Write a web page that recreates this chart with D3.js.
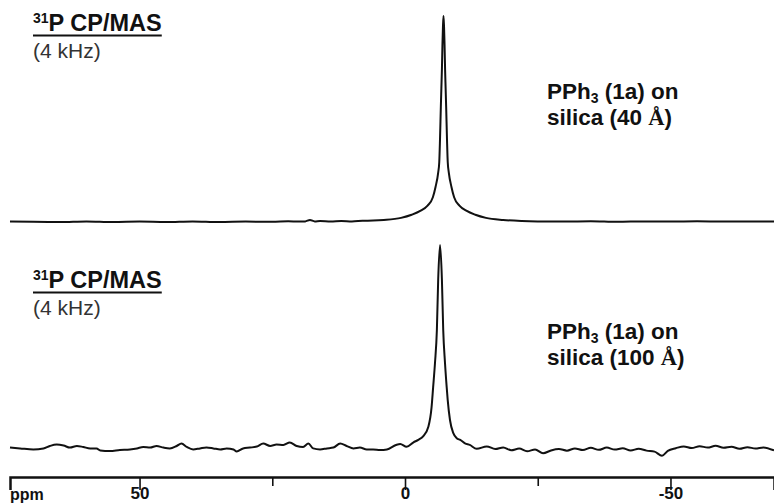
<!DOCTYPE html>
<html>
<head>
<meta charset="utf-8">
<script src="https://cdn.jsdelivr.net/npm/d3@7"></script>
<style>
  body { margin: 0; background: #fff; }
  svg { display: block; }
  text { font-family: "Liberation Sans", Arial, sans-serif; }
</style>
</head>
<body>
<div id="container"></div>
<script>
// spectrum 1 : PPh3 on silica (40 A), chemical shift (ppm) and relative intensity (%)
const topPpm = [74.4, 70, 65, 60, 55, 50, 45, 40, 35, 30,
  25, 22, 20, 18.8, 17.9, 17, 16, 14, 12, 10,
  8, 6, 4, 0.75, -1.25, -2.95, -4.25, -5.25, -5.75, -6.25,
  -6.45, -6.59, -6.75, -6.85, -6.95, -7.05, -7.15, -7.25, -7.35, -7.45,
  -7.55, -7.65, -7.75, -7.91, -8.05, -8.25, -8.75, -9.25, -10.25, -11.55,
  -13.25, -15.25, -18.5, -22, -25, -30, -35, -40, -45, -50,
  -55, -60, -65, -69.5];
const topInt = [0.2, 0.1, 0, 0.3, 0, 0.2, 0, 0.3, 0, 0.2,
  0.1, 0.4, 0.2, 0.3, 1.0, 0.3, 0.5, 0.2, 0.5, 0.3,
  0.6, 0.7, 1.0, 2.0, 3.5, 5.5, 8, 12, 17, 24,
  29, 40, 56, 65, 74, 86, 95, 100, 95, 86,
  74, 65, 56, 40, 29, 24, 17, 12, 8, 5.5,
  3.5, 2.0, 1.0, 0.5, 0.3, 0.2, 0.4, 0.1, 0.3, 0.2,
  0.4, 0.2, 0.3, 0.2];

// spectrum 2 : PPh3 on silica (100 A)
const bottomPpm = [74.4, 72.5, 70.0, 68.1, 66.9, 65.6, 64.3, 63.1, 61.8, 60.6,
  59.3, 58.1, 57.4, 55.6, 53.7, 51.8, 50.5, 49.3, 48.0, 46.8,
  45.5, 44.3, 43.0, 42.1, 41.1, 39.9, 38.6, 37.4, 36.1, 34.8,
  33.6, 32.3, 31.7, 30.5, 29.2, 27.9, 26.7, 25.4, 24.2, 22.9,
  21.7, 20.4, 19.2, 18.2, 17.3, 16.0, 14.7, 13.5, 12.2, 11.0,
  9.7, 8.5, 7.2, 6.0, 4.7, 3.4,
  1.7, 0.9, -0.3, -1.6, -2.5, -3.45, -4.4, -5.0, -5.3, -5.65,
  -6.0, -6.25, -6.6, -6.95, -7.2, -7.53, -7.85, -8.04, -8.47, -9.1,
  -9.74, -10.4, -11.3, -12.2, -13.5, -15.4,
  -17, -18.5, -20, -21.5, -23, -24.5, -26, -27.5, -29, -30.5,
  -32, -33.5, -35, -36.5, -38, -39.5, -41, -42.5, -44, -45.5,
  -47, -48.4, -49.5, -51, -52.5, -54, -55.5, -57, -58.5, -60,
  -61.5, -63, -64.5, -66, -67.5, -69.5];
const bottomInt = [0.2, -0.2, -0.7, -0.2, 1.0, 1.7, 1.2, 0.2, 1.0, 0.5,
  -0.2, -0.2, -1.2, -1.5, -1.0, -0.7, -0.2, 0.5, 0.2, 1.0,
  0.2, -0.2, 1.0, 2.2, 0.5, -0.7, -0.2, 0.2, -0.2, -0.7,
  -0.2, -0.7, -1.7, -0.2, 0.2, 0.7, 2.2, 1.0, 1.7, 1.5,
  2.7, 1.0, 0.5, 2.2, -0.2, -0.7, -0.2, 0.2, 2.2, 1.0,
  -0.2, 0.2, -0.7, -0.7, -1.0, -0.7,
  1.5, 2.0, 0.6, 2.8, 4.0, 5.9, 10.5, 20, 30, 42,
  58, 83, 100, 83, 58, 42, 30, 23.7, 13.8, 7.3,
  4.8, 4.0, 2.3, 1.5, -0.4, 0.8,
  -0.5, 0.3, -1.1, -0.3, -1.6, -0.7, -2.6, -1.2, -0.5, -1.3,
  -0.2, -1.0, 0.1, -0.9, 0.2, -0.8, -0.1, -1.2, -0.4, -1.3,
  -1.8, -3.8, -1.4, -0.1, 0.8, 0.0, 0.9, 0.2, 1.1, 0.1,
  0.6, -0.4, 0.4, -0.3, 0.3, -1.2];

// axis
const tickValues = [50, 25, 0, -25, -50];
const tickLabels = ["50", "", "0", "", "-50"];

// annotations
const methodText = ["31", "P CP/MAS"];
const spinText = "(4 kHz)";
const poreSizes = ["40", "100"];

const width = 774;
const height = 503;

const svg = d3.select("#container").append("svg")
  .attr("width", width).attr("height", height);

const xScale = d3.scaleLinear().domain([74.4, -69.5]).range([10, 774]);
const yTop = d3.scaleLinear().domain([0, 100]).range([222, 16]);
const yBottom = d3.scaleLinear().domain([0, 100]).range([448, 245]);

function drawSpectrum(ppm, inten, yScale) {
  const pts = ppm.map((p, i) => [p, inten[i]]);
  const line = d3.line()
    .x(d => xScale(d[0]))
    .y(d => yScale(d[1]))
    .curve(d3.curveMonotoneX);
  svg.append("path")
    .datum(pts)
    .attr("fill", "none")
    .attr("stroke", "#111")
    .attr("stroke-width", 2)
    .attr("stroke-linejoin", "round")
    .attr("d", line);
}

drawSpectrum(topPpm, topInt, yTop);
drawSpectrum(bottomPpm, bottomInt, yBottom);

// x axis
const xAxis = d3.axisBottom(xScale)
  .tickValues(tickValues)
  .tickFormat((d, i) => tickLabels[i])
  .tickSizeOuter(0)
  .tickSize(13);

const gx = svg.append("g")
  .attr("transform", "translate(0,477)")
  .call(xAxis);

gx.select(".domain").attr("stroke", "#111").attr("stroke-width", 2.5);
gx.selectAll(".tick line")
  .attr("stroke", "#111")
  .attr("stroke-width", 1.6)
  .attr("y2", (d, i) => tickLabels[i] ? 13 : 9);
gx.selectAll(".tick text")
  .attr("y", 22)
  .attr("dy", null)
  .attr("fill", "#111")
  .style("font-size", "17px")
  .style("font-weight", "bold")
  .style("font-family", "'Liberation Sans', Arial, sans-serif");

svg.append("text")
  .attr("x", 10).attr("y", 500)
  .style("font-size", "16px").style("font-weight", "bold")
  .attr("fill", "#111")
  .text("ppm");

// left annotations
function methodLabel(x, y) {
  const t = svg.append("text")
    .attr("x", x).attr("y", y)
    .attr("fill", "#111")
    .style("font-size", "23.5px").style("font-weight", "bold");
  t.append("tspan").text(methodText[0])
    .style("font-size", "14px").attr("dy", -8);
  t.append("tspan").text(methodText[1]).attr("dy", 8);
  const w = t.node().getComputedTextLength();
  svg.append("line")
    .attr("x1", x).attr("x2", x + w)
    .attr("y1", y + 4.5).attr("y2", y + 4.5)
    .attr("stroke", "#111").attr("stroke-width", 2.2);
  svg.append("text")
    .attr("x", x).attr("y", y + 27)
    .attr("fill", "#333")
    .style("font-size", "21px")
    .text(spinText);
}
methodLabel(33, 31);
methodLabel(33, 288);

// right annotations
function sampleLabel(x, y, size) {
  const t1 = svg.append("text")
    .attr("x", x).attr("y", y)
    .attr("fill", "#111")
    .style("font-size", "22.5px").style("font-weight", "bold");
  t1.append("tspan").text("PPh");
  t1.append("tspan").text("3").style("font-size", "14px").attr("dy", 4);
  t1.append("tspan").text(" (1a) on").attr("dy", -4);

  const t2 = svg.append("text")
    .attr("x", x).attr("y", y + 26)
    .attr("fill", "#111")
    .style("font-size", "22.5px").style("font-weight", "bold");
  t2.append("tspan").text("silica (" + size + " ");
  t2.append("tspan").text("Å")
    .style("font-family", "'Liberation Serif', 'Times New Roman', serif");
  t2.append("tspan").text(")");
}
sampleLabel(547, 99, poreSizes[0]);
sampleLabel(547, 339, poreSizes[1]);
</script>
</body>
</html>
